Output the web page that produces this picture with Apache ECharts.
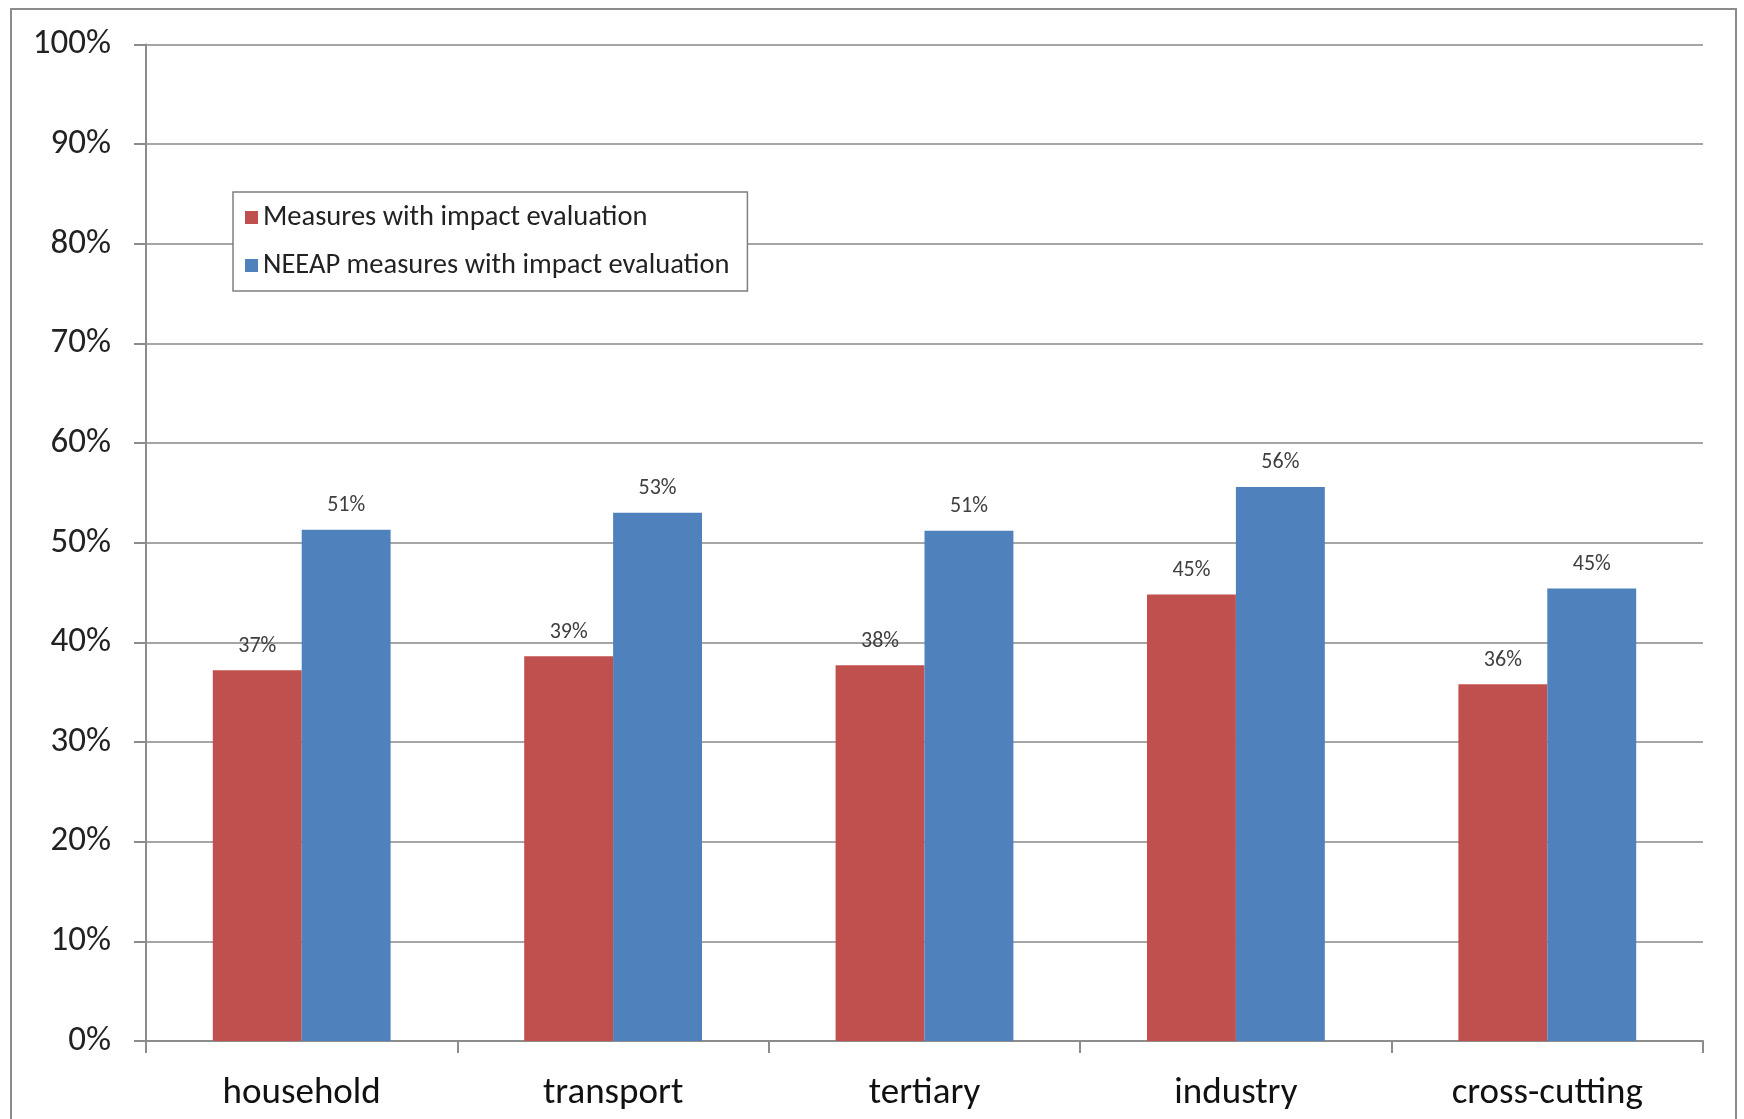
<!DOCTYPE html>
<html>
<head>
<meta charset="utf-8">
<script src="https://cdn.jsdelivr.net/npm/echarts@6/dist/echarts.min.js"></script>
<style>html,body{margin:0;padding:0;background:#fff}#c{width:1744px;height:1119px}</style>
</head>
<body>
<div id="c"></div>
<script>
const categories = ['household', 'transport', 'tertiary', 'industry', 'cross-cutting'];
const seriesNames = ['Measures with impact evaluation', 'NEEAP measures with impact evaluation'];
const measures = [37.2, 38.6, 37.7, 44.8, 35.8];
const neeap = [51.3, 53.0, 51.2, 55.6, 45.4];
const yTicks = [0, 10, 20, 30, 40, 50, 60, 70, 80, 90, 100];

const FONT = 'Carlito, Lato, "Open Sans", sans-serif';
const chart = echarts.init(document.getElementById('c'));
const labelOpt = {
  show: true, position: 'top', distance: 13,
  formatter: p => Math.round(p.value) + '%',
  fontFamily: FONT, fontSize: 22, color: '#404040'
};
chart.setOption({
  animation: false,
  graphic: [{
    type: 'rect', shape: { x: 11, y: 9, width: 1725, height: 1130 },
    style: { fill: 'none', stroke: '#8c8c8c', lineWidth: 2 }, z: -1
  }],
  legend: {
    data: seriesNames, orient: 'vertical', left: 233, top: 192,
    padding: [11, 18, 11, 12], itemGap: 19, itemWidth: 13, itemHeight: 13,
    icon: 'rect', borderColor: '#7f7f7f', borderWidth: 1.5, backgroundColor: '#fff',
    textStyle: { fontFamily: FONT, fontSize: 28.5, color: '#222' }
  },
  grid: { left: 146, right: 41, top: 44.5, bottom: 78, containLabel: false },
  xAxis: {
    type: 'category', data: categories,
    axisLine: { lineStyle: { color: '#8c8c8c', width: 2 } },
    axisTick: { show: true, alignWithLabel: false, length: 12, lineStyle: { color: '#8c8c8c', width: 2 } },
    axisLabel: { fontFamily: FONT, fontSize: 37, color: '#111', margin: 34 }
  },
  yAxis: {
    type: 'value', min: 0, max: 100, interval: 10,
    axisLine: { show: true, lineStyle: { color: '#8c8c8c', width: 2 } },
    axisTick: { show: true, inside: false, length: 12, lineStyle: { color: '#8c8c8c', width: 2 } },
    splitLine: { lineStyle: { color: '#a6a6a6', width: 2 } },
    axisLabel: {
      fontFamily: FONT, fontSize: 35, color: '#222', margin: 35,
      formatter: v => (yTicks.includes(v) ? v + '%' : '')
    }
  },
  series: [
    { name: seriesNames[0], type: 'bar', data: measures, barGap: '0%', barCategoryGap: '42.9%',
      itemStyle: { color: '#C0504D' }, label: labelOpt },
    { name: seriesNames[1], type: 'bar', data: neeap, barGap: '0%', barCategoryGap: '42.9%',
      itemStyle: { color: '#4F81BD' }, label: labelOpt }
  ]
});
</script>
</body>
</html>
